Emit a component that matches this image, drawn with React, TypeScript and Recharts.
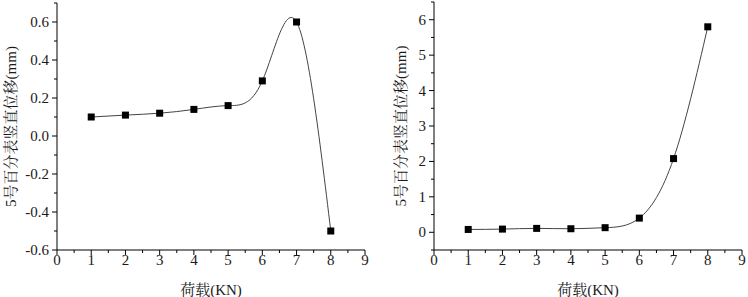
import React from 'react';
import { LineChart, Line, XAxis, YAxis } from 'recharts';

const loads = [1, 2, 3, 4, 5, 6, 7, 8];
const dispLeft = [0.1, 0.11, 0.12, 0.14, 0.16, 0.29, 0.6, -0.5];
const dispRight = [0.08, 0.09, 0.11, 0.1, 0.13, 0.4, 2.08, 5.8];

const xTicks = [0, 0.5, 1, 1.5, 2, 2.5, 3, 3.5, 4, 4.5, 5, 5.5, 6, 6.5, 7, 7.5, 8, 8.5, 9];
const xLabels = [0, 1, 2, 3, 4, 5, 6, 7, 8, 9];
const yTicksLeft = [-0.6, -0.5, -0.4, -0.3, -0.2, -0.1, 0, 0.1, 0.2, 0.3, 0.4, 0.5, 0.6, 0.7];
const yLabelsLeft = [-0.6, -0.4, -0.2, 0, 0.2, 0.4, 0.6];
const yTicksRight = [-0.5, 0, 0.5, 1, 1.5, 2, 2.5, 3, 3.5, 4, 4.5, 5, 5.5, 6, 6.5];
const yLabelsRight = [0, 1, 2, 3, 4, 5, 6];

const xTitle = '荷载(KN)';
const yTitle = '5号百分表竖直位移(mm)';

const leftData = loads.map((x, i) => ({ x, y: dispLeft[i] }));
const rightData = loads.map((x, i) => ({ x, y: dispRight[i] }));

const FONT = "'Liberation Serif', 'Times New Roman', 'Noto Serif CJK SC', 'Noto Sans CJK SC', serif";
const TXT = '#1a1a1a';

const has = (arr: number[], v: number) => arr.some((a) => Math.abs(a - v) < 1e-6);

const XTick = (props: any) => {
  const { x, y, payload } = props;
  const major = has(xLabels, payload.value);
  return (
    <g>
      <line x1={x} x2={x} y1={y} y2={y + (major ? 5 : 3)} stroke="#000" strokeWidth={1} />
      {major && (
        <text x={x} y={y + 15} textAnchor="middle" fontFamily={FONT} fontSize={15} fill={TXT}>
          {payload.value}
        </text>
      )}
    </g>
  );
};

const makeYTick = (labels: number[], digits: number) => (props: any) => {
  const { x, y, payload } = props;
  const major = has(labels, payload.value);
  return (
    <g>
      <line x1={x} x2={x - (major ? 5 : 3)} y1={y} y2={y} stroke="#000" strokeWidth={1} />
      {major && (
        <text x={x - 8} y={y + 5} textAnchor="end" fontFamily={FONT} fontSize={15} fill={TXT}>
          {Number(payload.value).toFixed(digits)}
        </text>
      )}
    </g>
  );
};

const YTickLeft = makeYTick(yLabelsLeft, 1);
const YTickRight = makeYTick(yLabelsRight, 0);

const Square = (props: any) => {
  const { cx, cy } = props;
  if (cx == null || cy == null) return null;
  return <rect x={cx - 3.5} y={cy - 3.5} width={7} height={7} fill="#000" />;
};

const xLabelContent = (props: any) => {
  const vb = props.viewBox || {};
  return (
    <text x={vb.x + vb.width / 2} y={295} textAnchor="middle" fontFamily={FONT} fontSize={15} fill={TXT}>
      {xTitle}
    </text>
  );
};

const makeYLabel = (dx: number) => (props: any) => {
  const vb = props.viewBox || {};
  const cx = vb.x + dx;
  const cy = vb.y + vb.height / 2;
  return (
    <text
      x={cx}
      y={cy}
      textAnchor="middle"
      dominantBaseline="central"
      transform={`rotate(-90, ${cx}, ${cy})`}
      fontFamily={FONT}
      fontSize={15}
      fill={TXT}
    >
      {yTitle}
    </text>
  );
};

export default function App() {
  return (
    <div style={{ position: 'absolute', left: 0, top: 0, width: 748, height: 297, background: '#fff', display: 'flex' }}>
      <LineChart width={374} height={297} data={leftData} margin={{ top: 3, right: 9, bottom: 0, left: 0 }}>
        <XAxis
          dataKey="x"
          type="number"
          domain={[0, 9]}
          ticks={xTicks}
          interval={0}
          height={47}
          tickSize={0}
          tickMargin={0}
          tickLine={false}
          tick={<XTick />}
          stroke="#000"
          label={{ content: xLabelContent }}
        />
        <YAxis
          type="number"
          domain={[-0.6, 0.7]}
          ticks={yTicksLeft}
          interval={0}
          width={57}
          tickSize={0}
          tickMargin={0}
          tickLine={false}
          tick={<YTickLeft />}
          stroke="#000"
          allowDataOverflow
          label={{ content: makeYLabel(11) }}
        />
        <Line type="natural" dataKey="y" stroke="#444" strokeWidth={1} dot={<Square />} isAnimationActive={false} />
      </LineChart>
      <LineChart width={374} height={297} data={rightData} margin={{ top: 2, right: 6, bottom: 0, left: 0 }}>
        <XAxis
          dataKey="x"
          type="number"
          domain={[0, 9]}
          ticks={xTicks}
          interval={0}
          height={47}
          tickSize={0}
          tickMargin={0}
          tickLine={false}
          tick={<XTick />}
          stroke="#000"
          label={{ content: xLabelContent }}
        />
        <YAxis
          type="number"
          domain={[-0.5, 6.5]}
          ticks={yTicksRight}
          interval={0}
          width={60}
          tickSize={0}
          tickMargin={0}
          tickLine={false}
          tick={<YTickRight />}
          stroke="#000"
          allowDataOverflow
          label={{ content: makeYLabel(27) }}
        />
        <Line type="natural" dataKey="y" stroke="#444" strokeWidth={1} dot={<Square />} isAnimationActive={false} />
      </LineChart>
    </div>
  );
}
